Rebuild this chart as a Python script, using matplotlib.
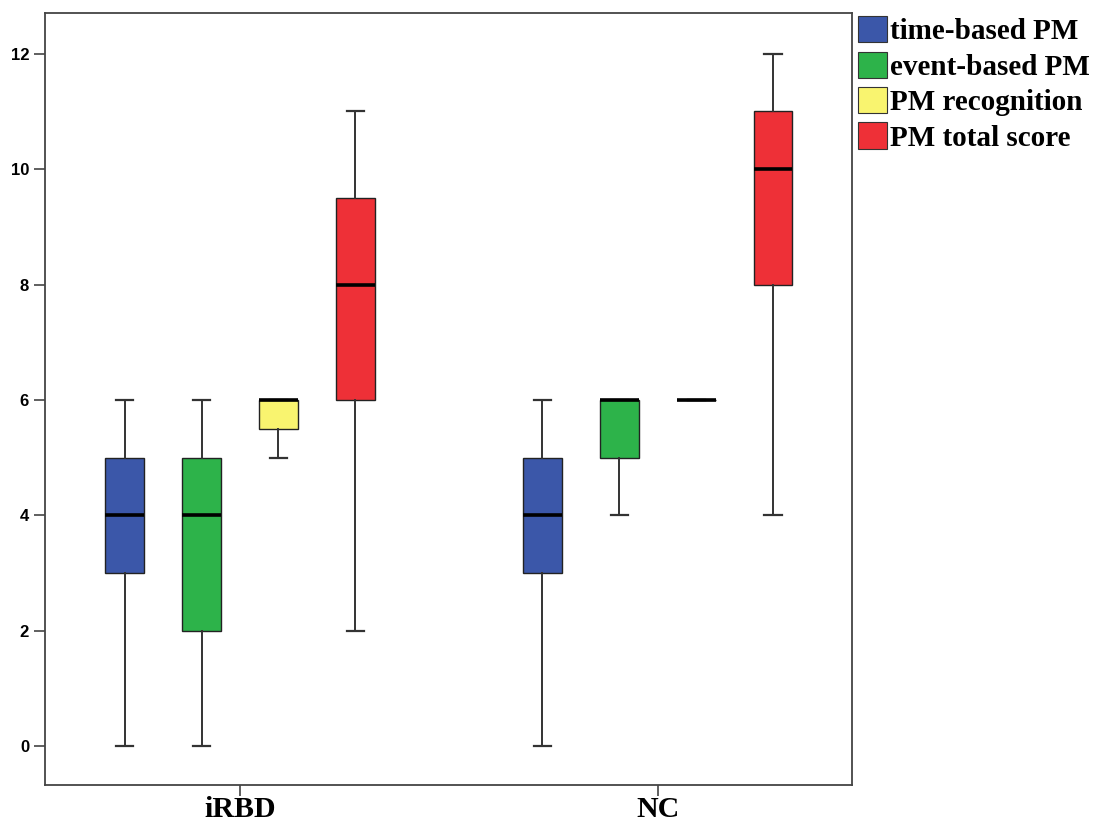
import matplotlib.pyplot as plt
from matplotlib.patches import Patch

groups = ["iRBD", "NC"]
series = ["time-based PM", "event-based PM", "PM recognition", "PM total score"]
colors = ["#3b57a9", "#2db34a", "#f9f46f", "#ee3037"]

# (whislo, q1, med, q3, whishi) per series, per group
irbd = [(0, 3, 4, 5, 6), (0, 2, 4, 5, 6), (5, 5.5, 6, 6, 6), (2, 6, 8, 9.5, 11)]
nc = [(0, 3, 4, 5, 6), (4, 5, 6, 6, 6), (6, 6, 6, 6, 6), (4, 8, 10, 11, 12)]
data = [irbd, nc]

offsets = [-0.276, -0.092, 0.092, 0.276]
width = 0.093

fig = plt.figure(figsize=(11.05, 8.25), dpi=100)
ax = fig.add_axes([0.0407, 0.0485, 0.7303, 0.9355])

for gi, g in enumerate(data):
    for si, (lo, q1, med, q3, hi) in enumerate(g):
        st = dict(whislo=lo, q1=q1, med=med, q3=q3, whishi=hi, fliers=[])
        pos = gi + 1 + offsets[si]
        ax.bxp([st], positions=[pos], widths=width, capwidths=width * 0.44,
               patch_artist=True, showfliers=False,
               boxprops=dict(facecolor=colors[si], edgecolor="#222222", lw=1.0),
               medianprops=dict(color="black", lw=2.6),
               whiskerprops=dict(color="#333333", lw=1.4),
               capprops=dict(color="#333333", lw=1.6))

ax.set_xlim(0.533, 2.465)
ax.set_ylim(-0.67, 12.7)
ax.set_yticks(range(0, 13, 2))
ax.set_xticks([1, 2])
ax.set_xticklabels(groups, fontsize=21.5, fontweight="bold", family="Liberation Serif")
for t in ax.get_yticklabels():
    t.set_fontsize(12); t.set_fontweight("bold"); t.set_family("Liberation Sans")
ax.tick_params(axis="both", direction="out", length=8, width=1.2, color="#444444")
ax.tick_params(axis="x", pad=0)
for s in ax.spines.values():
    s.set_color("#444444"); s.set_linewidth(1.3)

handles = [Patch(facecolor=c, edgecolor="#333333", lw=0.8) for c in colors]
fig.legend(handles, series, loc="upper left", bbox_to_anchor=(0.774, 0.984),
           frameon=False, handlelength=0.98, handleheight=1.0, handletextpad=0.1,
           labelspacing=0.22, borderaxespad=0, borderpad=0.1,
           prop=dict(family="Liberation Serif", weight="bold", size=21))

fig.savefig("out.png", dpi=100)
